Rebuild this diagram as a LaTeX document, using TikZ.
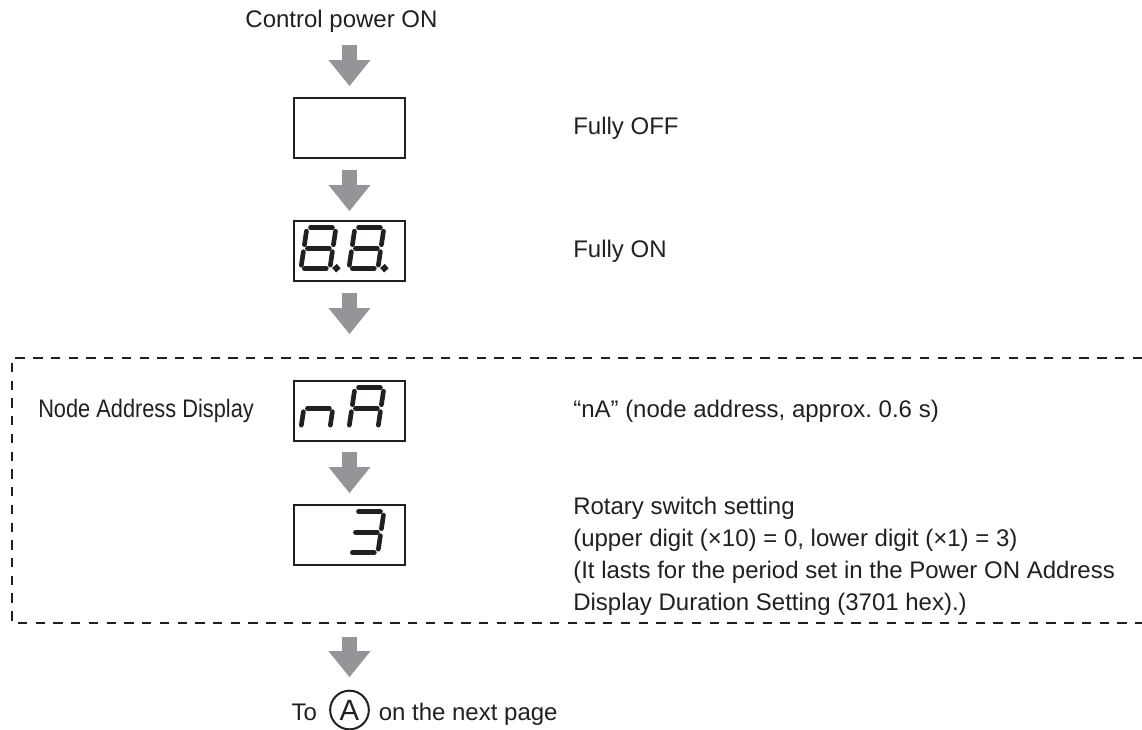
\documentclass[tikz,border=0pt]{standalone}
\usepackage{fontspec}
\setmainfont{Liberation Sans}
\newfontfamily\narrowfont[FakeStretch=0.86]{Liberation Sans}
\usetikzlibrary{arrows.meta, positioning}
\definecolor{ink}{RGB}{35,31,32}
\definecolor{flowgray}{RGB}{147,149,152}

% one slanted 7-segment digit: box node, x offset, segments
\newcommand{\segdigit}[3]{%
  \begin{scope}[shift={(#1.north west)}, shift={(#2,49)}, xslant=0.15]
    \foreach \k in {#3}{ \draw[segment, seg/\k]; }
  \end{scope}}

\begin{document}
\begin{tikzpicture}[x=0.75pt, y=-0.75pt,
  txt/.style={inner sep=0pt, text=ink, font=\fontsize{18}{24}\selectfont},
  disp/.style={draw=ink, line width=1.5pt, minimum width=83.5pt, minimum height=45.5pt, inner sep=0pt},
  flow/.style={draw=flowgray, line width=11.25pt, -{Triangle[width=31.5pt, length=19.5pt, line width=0pt]}},
  segment/.style={draw=ink, line width=3.5pt, line cap=round},
  seg/a/.style={insert path={(3.5,-41) -- (25.5,-41)}},
  seg/b/.style={insert path={(29,-37.5) -- (29,-24)}},
  seg/c/.style={insert path={(29,-17) -- (29,-3.5)}},
  seg/d/.style={insert path={(3.5,0) -- (25.5,0)}},
  seg/e/.style={insert path={(0,-17) -- (0,-3.5)}},
  seg/f/.style={insert path={(0,-37.5) -- (0,-24)}},
  seg/g/.style={insert path={(3.5,-20.5) -- (25.5,-20.5)}},
  seg/p/.style={insert path={(35.5,-0.5) circle[radius=1]}},
  frame/.style={draw=ink, line width=1pt, dash pattern=on 7pt off 6.3pt}]
  \useasboundingbox (0,0) rectangle (1142,729);

  \node[txt] (start) at (341.5,21) {Control power ON};
  \node[disp] (b1) at (349.5,128) {};
  \node[disp] (b2) at (349.5,251) {};
  \node[disp] (b3) at (349.5,411) {};
  \node[disp] (b4) at (349.5,535) {};
  \node[circle, draw=ink, line width=1.5pt, minimum size=29pt, inner sep=0pt, text=ink,
        font=\fontsize{22}{22}\selectfont] (circA) at (349.5,710) {A};
  \node[txt, anchor=base east, xshift=-9pt] (to) at (circA.base -| circA.west) {To};
  \node[txt, anchor=base west, xshift=6.5pt] (next) at (circA.base -| circA.east) {on the next page};

  % display contents
  \segdigit{b2}{8}{a,b,c,d,e,f,g,p}
  \segdigit{b2}{56}{a,b,c,d,e,f,g,p}
  \segdigit{b3}{8}{c,e,g}
  \segdigit{b3}{56}{a,b,c,e,f,g}
  \segdigit{b4}{56}{a,b,c,d,g}

  \coordinate (tx) at (573,0);
  \node[txt, anchor=west] (off) at (b1 -| tx) {Fully OFF};
  \node[txt, anchor=west] (on) at (b2 -| tx) {Fully ON};
  \node[txt, anchor=west] (addr) at (b3 -| tx) {“nA” (node address, approx.\ 0.6 s)};
  \node[txt, anchor=north west, align=left] (rot) at (573,497)
    {Rotary switch setting\\(upper digit (×10) = 0, lower digit (×1) = 3)\\(It lasts for the period set in the Power ON Address\\Display Duration Setting (3701 hex).)};
  \node[txt, anchor=west, font=\narrowfont\fontsize{19}{22}\selectfont] (nad) at (38,411) {Node Address Display};

  \draw[flow, shorten <=9.75pt, shorten >=8pt] (start.south -| b1.north) -- (b1.north);
  \foreach \a/\b/\p/\q in {b1/b2/8/6.5, b2/b3/8/34.25, b3/b4/7.5/8, b4/circA/53/9.4}
    \draw[flow, shorten <=\p pt, shorten >=\q pt] (\a.south) -- (\b.north);

  \draw[frame] (1142,358) -| (12,623) -- (1142,623);
\end{tikzpicture}
\end{document}
